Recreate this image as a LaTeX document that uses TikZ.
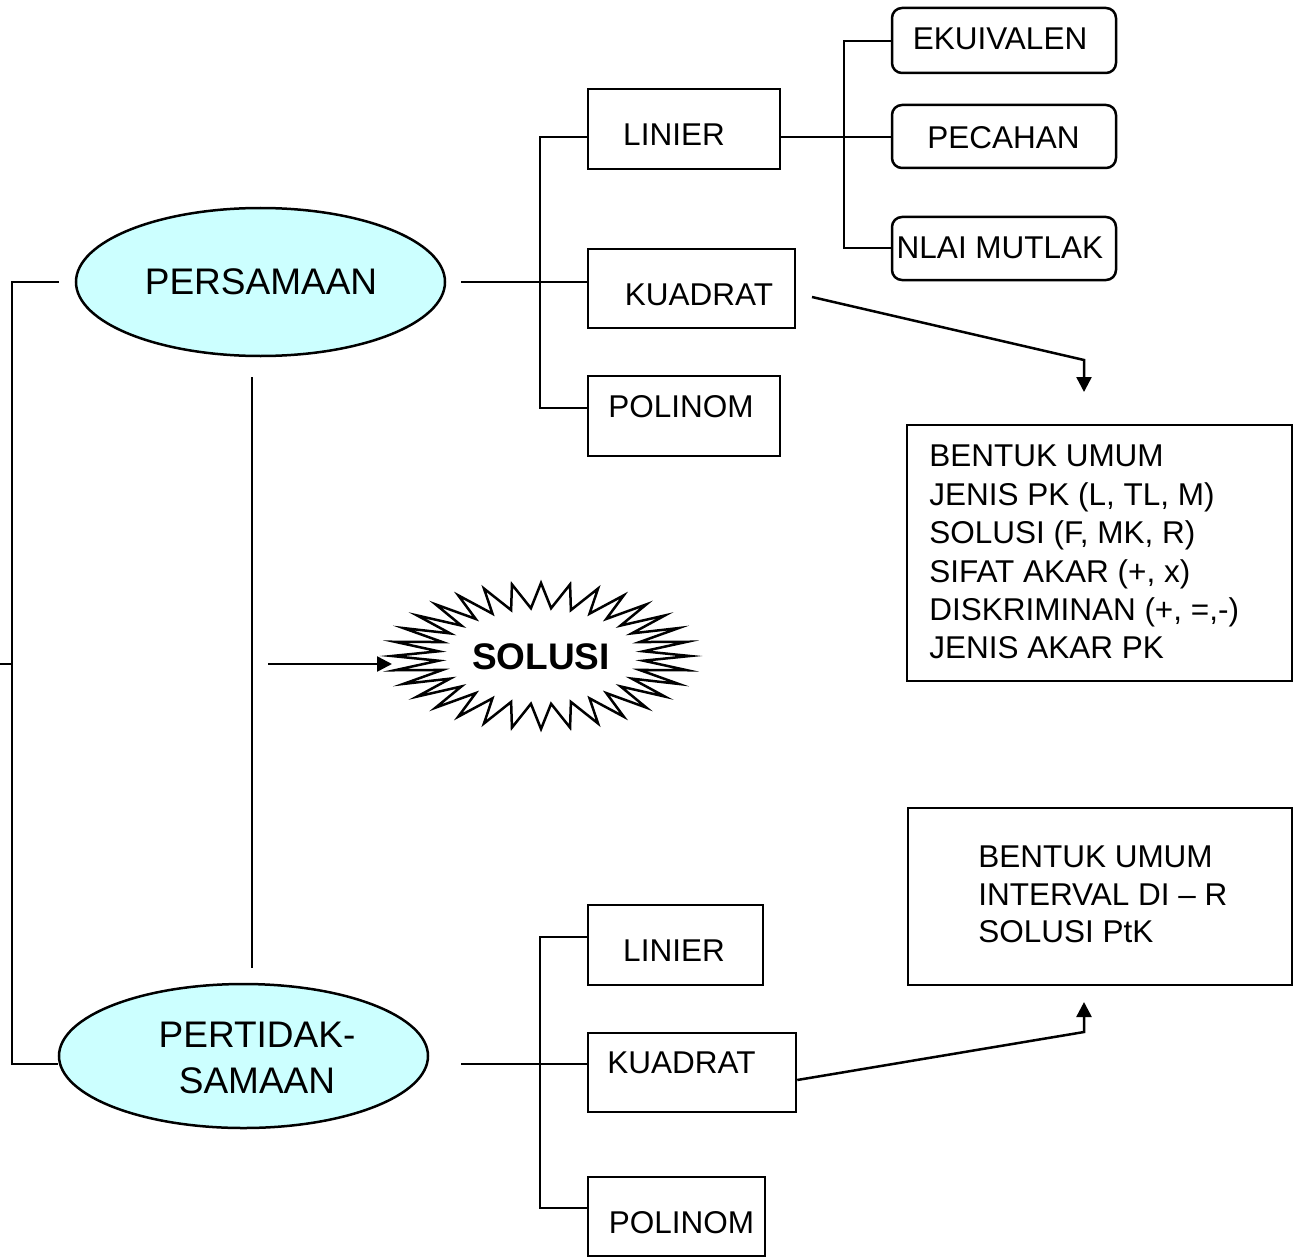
\documentclass[tikz,border=0pt]{standalone}
\usepackage{fontspec}
\setmainfont{Liberation Sans}
\usetikzlibrary{arrows.meta,shapes.geometric,calc}
\definecolor{cyanfill}{HTML}{CCFFFF}
\begin{document}
\begin{tikzpicture}[x=0.5pt,y=-0.5pt, line width=1.25pt,
  sqbox/.style={draw, rectangle, inner sep=0pt},
  rbox/.style={draw, rectangle, rounded corners=5pt, inner sep=0pt, minimum width=112pt},
  oval/.style={draw, ellipse, fill=cyanfill, inner sep=0pt},
  lbl/.style={font=\fontsize{15.75}{19.2}\selectfont, inner sep=0pt},
  big/.style={font=\fontsize{18.5}{23}\selectfont, inner sep=0pt, align=center},
  tip/.style={-{Triangle[length=7.5pt,width=7.5pt]}}
]
\useasboundingbox (0,0) rectangle (1299,1257);

% ellipses
\node[oval, minimum width=184.5pt, minimum height=74pt] (pers) at (260.5,282) {};
\node[big] (tpers) at (261,281.5) {PERSAMAAN};
\node[oval, minimum width=184.5pt, minimum height=72pt] (pert) at (243.5,1056) {};
\node[big] (tpert) at (257,1057.5) {PERTIDAK-\\SAMAAN};

% persamaan branch boxes
\node[sqbox, minimum width=96pt, minimum height=40pt] (l1) at (684,129) {};
\node[lbl] (tl1) at (674,134.5) {LINIER};
\node[sqbox, minimum width=103.5pt, minimum height=39.5pt] (k1) at (691.5,288.5) {};
\node[lbl] (tk1) at (699,295) {KUADRAT};
\node[sqbox, minimum width=96pt, minimum height=40pt] (p1) at (684,416) {};
\node[lbl] (tp1) at (681,407) {POLINOM};

% linier sub boxes
\node[rbox, minimum height=32.5pt] (ek) at (1004,40.5) {};
\node[lbl] (tek) at (1000,39) {EKUIVALEN};
\node[rbox, minimum height=31.5pt] (pe) at (1004,136.5) {};
\node[lbl] (tpe) at (1003.5,138) {PECAHAN};
\node[rbox, minimum height=31.5pt] (nl) at (1004,248.5) {};
\node[lbl] (tnl) at (1000,248) {NLAI MUTLAK};

% big info boxes
\node[sqbox, minimum width=192.5pt, minimum height=128pt] (b1) at (1099.5,553) {};
\node[lbl, align=left, anchor=north west] (tb1) at (928,444) {BENTUK UMUM\\JENIS PK (L, TL, M)\\SOLUSI (F, MK, R)\\SIFAT AKAR (+, x)\\DISKRIMINAN (+, =,-)\\JENIS AKAR PK};
\node[sqbox, minimum width=192pt, minimum height=88.5pt] (b2) at (1100,896.5) {};
\node[lbl, align=left, anchor=north west, font=\fontsize{15.75}{18.6}\selectfont] (tb2) at (977,845) {BENTUK UMUM\\INTERVAL DI -- R\\SOLUSI PtK};

% pertidaksamaan branch boxes
\node[sqbox, minimum width=87.5pt, minimum height=40pt] (l2) at (675.5,945) {};
\node[lbl] (tl2) at (674,951) {LINIER};
\node[sqbox, minimum width=104pt, minimum height=39.5pt] (k2) at (692,1072.5) {};
\node[lbl] (tk2) at (681.5,1063) {KUADRAT};
\node[sqbox, minimum width=88.5pt, minimum height=39.5pt] (p2) at (676.5,1216.5) {};
\node[lbl] (tp2) at (681.5,1223) {POLINOM};

% solusi starburst
\draw[line join=miter] (690,656)
  \foreach \k in {1,...,63} { -- ({541+(149-46*mod(\k,2))*cos(\k*5.625)},{656+(73-25*mod(\k,2))*sin(\k*5.625)}) } -- cycle;
\node[font=\fontsize{18.5}{22}\selectfont\bfseries, inner sep=0pt] (sol) at (541,657) {SOLUSI};

% connectors
\coordinate (stub) at (0,664);
\coordinate (brk) at (12,664);
\draw (stub) -- (brk);
\draw ($(pers.west)+(-16,0)$) -- (12,282) -- (12,1064) -- ($(pert.west)+(0,8)$);
\draw ($(pers.east)+(15,0)$) -- (k1.west |- pers.east);
\draw (l1.west |- 0,137) -| (540,408) -- (p1.west |- 0,408);
\draw (l1.east |- 0,137) -- (pe.west |- 0,137);
\draw (ek.west |- 0,41) -| (844,248) -- (nl.west |- 0,248);

\draw ($(pert.east)+(32,8)$) -- (k2.west |- 0,1064);
\draw (l2.west |- 0,937) -| (540,1208) -- (p2.west |- 0,1208);

\coordinate (vtop) at (252,377);
\coordinate (vbot) at (252,968);
\draw (vtop) -- (vbot);
\coordinate (sarr) at (268,664);
\coordinate (solw) at (392,664);
\draw[tip] (sarr) -- (solw);

\coordinate (ka) at (812,297);
\coordinate (kb) at (1084,360);
\coordinate (kc) at (1084,392);
\draw[tip] (ka) -- (kb) -- (kc);
\coordinate (kd) at (1084,1032);
\coordinate (ke) at (1084,1002);
\draw[tip] (k2.east |- 0,1080) -- (kd) -- (ke);
\end{tikzpicture}
\end{document}
